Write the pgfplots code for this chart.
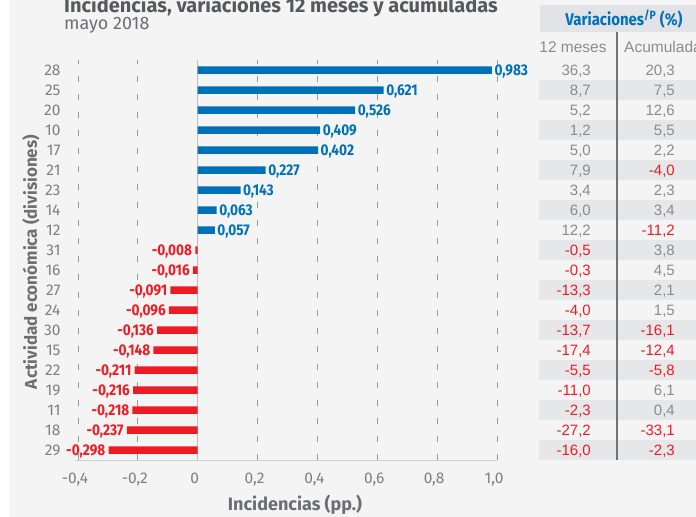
\documentclass[border=0pt]{standalone}
\usepackage{pgfplots}
\pgfplotsset{compat=1.18}
\usepackage{fontspec}
\setmainfont{Fira Sans}
\newfontfamily\tabfont{Liberation Sans}
\newfontfamily\condfont[FakeStretch=0.88]{Fira Sans}
\definecolor{bg}{HTML}{F4F4F4}
\definecolor{barblue}{HTML}{0070B8}
\definecolor{barred}{HTML}{ED1C24}
\definecolor{tickgray}{HTML}{7F7F7F}
\definecolor{labgray}{HTML}{6D6E71}
\definecolor{titlegray}{HTML}{58595B}
\definecolor{rowdark}{HTML}{E6E7E8}
\definecolor{headbg}{HTML}{E1E3E6}
\definecolor{tg}{HTML}{8C8C8C}
\definecolor{tr}{HTML}{ED1C24}
\definecolor{gridgray}{HTML}{9A9A9A}

\newcommand\trow[5]{%
  \node[anchor=base east,text=#2,font=\tabfont\fontsize{15bp}{18bp}\selectfont,inner sep=0pt]
     at (591bp,{-(75.3+20*#1)*1bp}) {#3};
  \node[anchor=base east,text=#4,font=\tabfont\fontsize{15bp}{18bp}\selectfont,inner sep=0pt]
     at (675bp,{-(75.3+20*#1)*1bp}) {#5};
}

\begin{document}
\begin{tikzpicture}
\useasboundingbox (0,0) rectangle (696bp,-517bp);
\fill[bg] (9bp,0) rectangle (696bp,-517bp);

% title
\node[anchor=base west,inner sep=0pt,text=titlegray,font=\bfseries\fontsize{20bp}{22bp}\selectfont] at (64bp,-12bp) {Incidencias, variaciones 12 meses y acumuladas};
\node[anchor=base west,inner sep=0pt,text=labgray,font=\fontsize{18bp}{20bp}\selectfont] at (64bp,-29bp) {mayo 2018};

% table background
\fill[headbg] (540bp,-5bp) rectangle (696bp,-32bp);
\foreach \k in {1,3,...,19}{
  \fill[rowdark] (539bp,{-(60+20*\k)*1bp}) rectangle (696bp,{-(80+20*\k)*1bp});
}
\node[text=barblue,font=\condfont\bfseries\fontsize{17bp}{19bp}\selectfont,inner sep=0pt] at (624bp,-19bp) {Variaciones\textsuperscript{/P} (\%)};
\node[text=tg,font=\tabfont\fontsize{15.5bp}{18bp}\selectfont,inner sep=0pt] at (573bp,-47bp) {12 meses};
\node[anchor=west,text=tg,font=\tabfont\fontsize{15.5bp}{18bp}\selectfont,inner sep=0pt] at (624bp,-47bp) {Acumulada};
\draw[color=black!55,line width=1.5bp] (617bp,-32bp) -- (617bp,-460bp);

\trow{0}{tg}{36,3}{tg}{20,3}
\trow{1}{tg}{8,7}{tg}{7,5}
\trow{2}{tg}{5,2}{tg}{12,6}
\trow{3}{tg}{1,2}{tg}{5,5}
\trow{4}{tg}{5,0}{tg}{2,2}
\trow{5}{tg}{7,9}{tr}{-4,0}
\trow{6}{tg}{3,4}{tg}{2,3}
\trow{7}{tg}{6,0}{tg}{3,4}
\trow{8}{tg}{12,2}{tr}{-11,2}
\trow{9}{tr}{-0,5}{tg}{3,8}
\trow{10}{tr}{-0,3}{tg}{4,5}
\trow{11}{tr}{-13,3}{tg}{2,1}
\trow{12}{tr}{-4,0}{tg}{1,5}
\trow{13}{tr}{-13,7}{tr}{-16,1}
\trow{14}{tr}{-17,4}{tr}{-12,4}
\trow{15}{tr}{-5,5}{tr}{-5,8}
\trow{16}{tr}{-11,0}{tg}{6,1}
\trow{17}{tr}{-2,3}{tg}{0,4}
\trow{18}{tr}{-27,2}{tr}{-33,1}
\trow{19}{tr}{-16,0}{tr}{-2,3}

\begin{axis}[
  at={(75bp,-460bp)}, anchor=south west,
  scale only axis, width=422bp, height=400bp,
  xmin=-0.41, xmax=1.0, ymin=-0.5, ymax=19.5,
  axis line style={draw=none},
  major tick length=0pt,
  xtick={-0.4,-0.2,0,0.2,0.4,0.6,0.8,1.0},
  xticklabels={{-0,4},{-0,2},0,{0,2},{0,4},{0,6},{0,8},{1,0}},
  ytick={0,...,19},
  yticklabels={29,18,11,19,22,15,30,24,27,16,31,12,14,23,21,17,10,20,25,28},
  tick label style={text=tickgray,font=\fontsize{15.5bp}{18bp}\selectfont},
  yticklabel style={xshift=-11bp},
  xticklabel style={yshift=-9bp,xshift=-3bp},
  xmajorgrids,
  major grid style={color=gridgray,line width=0.9bp,dash pattern=on 6bp off 12bp},
  clip=false,
]
\draw[color=black!18,line width=1bp] (rel axis cs:0,0) -- (rel axis cs:1,0);
\draw[color=black!25,line width=1.2bp] (axis cs:0,-0.5) -- (axis cs:0,19.5);
\addplot[xbar, bar width=7.5bp, bar shift=0pt, fill=barblue, draw=none,
  point meta=explicit symbolic, nodes near coords,
  every node near coord/.style={anchor=base west, inner sep=0pt, xshift=2.5bp, yshift=-5.5bp,
    text=barblue, font=\condfont\bfseries\fontsize{15.5bp}{17bp}\selectfont}]
coordinates {
(0.983,19) [0,983]
(0.621,18) [0,621]
(0.526,17) [0,526]
(0.409,16) [0,409]
(0.402,15) [0,402]
(0.227,14) [0,227]
(0.143,13) [0,143]
(0.063,12) [0,063]
(0.057,11) [0,057]
};
\addplot[xbar, bar width=7.5bp, bar shift=0pt, fill=barred, draw=none,
  point meta=explicit symbolic, nodes near coords,
  every node near coord/.style={anchor=base east, inner sep=0pt, xshift=-3bp, yshift=-5.5bp,
    text=barred, font=\condfont\bfseries\fontsize{15.5bp}{17bp}\selectfont}]
coordinates {
(-0.008,10) [-0,008]
(-0.016,9) [-0,016]
(-0.091,8) [-0,091]
(-0.096,7) [-0,096]
(-0.136,6) [-0,136]
(-0.148,5) [-0,148]
(-0.211,4) [-0,211]
(-0.216,3) [-0,216]
(-0.218,2) [-0,218]
(-0.237,1) [-0,237]
(-0.298,0) [-0,298]
};
\end{axis}

\node[rotate=90,text=labgray,font=\bfseries\fontsize{17bp}{19bp}\selectfont,inner sep=0pt] at (31bp,-262bp) {Actividad económica (divisiones)};
\node[text=labgray,font=\bfseries\fontsize{18bp}{20bp}\selectfont,inner sep=0pt] at (295bp,-505bp) {Incidencias (pp.)};
\end{tikzpicture}
\end{document}
